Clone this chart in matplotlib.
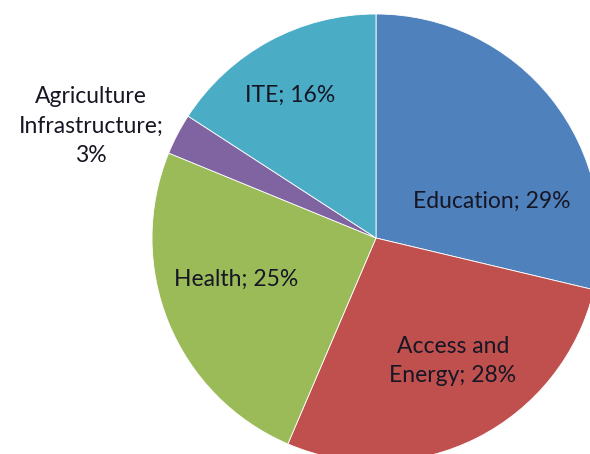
import matplotlib
matplotlib.use("Agg")
import matplotlib.pyplot as plt

# Budget share by sector (percent)
categories = ["Education", "Access and Energy", "Health", "Agriculture Infrastructure", "ITE"]
shares = [29, 28, 25, 3, 16]
label_texts = ["Education; 29%", "Access and\nEnergy; 28%", "Health; 25%",
               "Agriculture\nInfrastructure;\n3%", "ITE; 16%"]

colors = ["#4F81BD", "#C0504D", "#9BBB59", "#8064A2", "#4BACC6"]

W, H = 590, 454
fig = plt.figure(figsize=(W / 100, H / 100), dpi=100)
ax = fig.add_axes([0, 0, 1, 1])

# pixel-based coordinates, y measured upward
cx, cy, r = 376, H - 238, 224
ax.pie(shares, colors=colors, startangle=90, counterclock=False,
       center=(cx, cy), radius=r,
       wedgeprops=dict(edgecolor="white", linewidth=0.6))
ax.set_xlim(0, W)
ax.set_ylim(0, H)
ax.set_aspect("equal")
ax.axis("off")

# label anchor positions in pixels (x, y from top)
label_pos = [(492, 201), (453, 361), (236, 279), (91, 126), (290, 95)]
for txt, (x, y) in zip(label_texts, label_pos):
    ax.text(x, H - y, txt, ha="center", va="center", fontsize=16.5,
            family="Lato", color="#161624", linespacing=1.52)

fig.savefig("out.png", dpi=100)
